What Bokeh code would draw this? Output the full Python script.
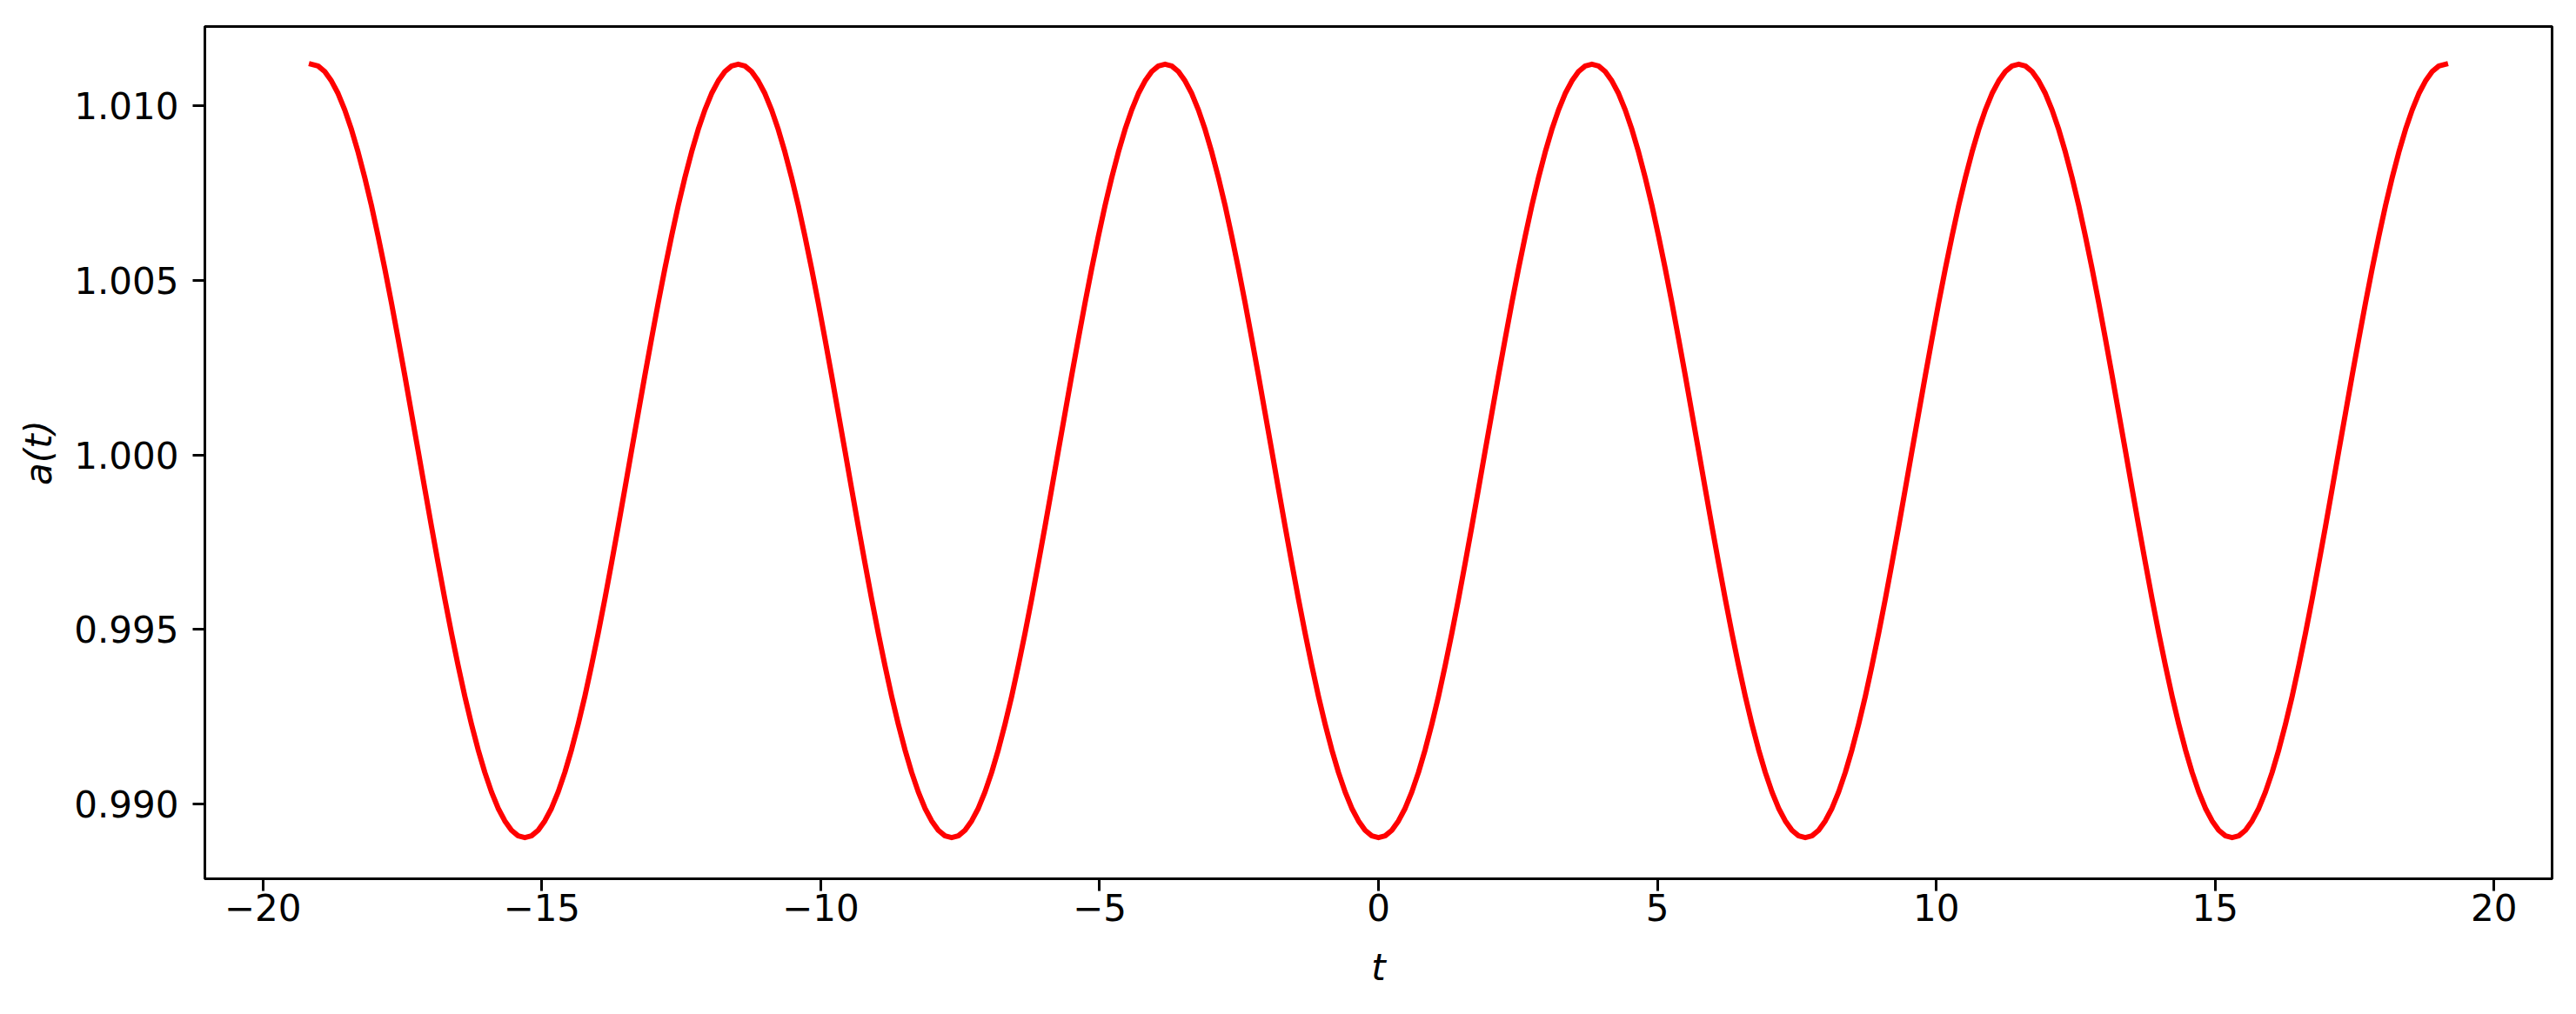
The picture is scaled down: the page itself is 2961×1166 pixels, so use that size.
import numpy as np
from bokeh.plotting import figure
from bokeh.models import FixedTicker, Range1d
from bokeh.embed import file_html
from bokeh.resources import INLINE

# Data (t from -19.13 to 19.13, 321 samples)
t_start, t_end = -19.13, 19.13
a_values = [
    # max at t=-19.13 -> min at t=-15.30
    1.01120, 1.01115, 1.01099, 1.01072, 1.01036, 1.00989, 1.00933, 1.00868, 1.00795, 1.00715, 1.00627,
    1.00534, 1.00436, 1.00333, 1.00228, 1.00120, 1.00012, 0.99903, 0.99795, 0.99690, 0.99587, 0.99489,
    0.99396, 0.99308, 0.99228, 0.99155, 0.99090, 0.99034, 0.98987, 0.98951, 0.98924, 0.98908, 0.98903,
    # up to max at t=-11.48
    0.98908, 0.98924, 0.98951, 0.98987, 0.99034, 0.99090, 0.99155, 0.99228, 0.99308, 0.99396, 0.99489,
    0.99587, 0.99690, 0.99795, 0.99903, 1.00012, 1.00120, 1.00228, 1.00333, 1.00436, 1.00534, 1.00627,
    1.00715, 1.00795, 1.00868, 1.00933, 1.00989, 1.01036, 1.01072, 1.01099, 1.01115, 1.01120,
    # down to min at t=-7.65
    1.01115, 1.01099, 1.01072, 1.01036, 1.00989, 1.00933, 1.00868, 1.00795, 1.00715, 1.00627,
    1.00534, 1.00436, 1.00333, 1.00228, 1.00120, 1.00012, 0.99903, 0.99795, 0.99690, 0.99587, 0.99489,
    0.99396, 0.99308, 0.99228, 0.99155, 0.99090, 0.99034, 0.98987, 0.98951, 0.98924, 0.98908, 0.98903,
    # up to max at t=-3.83
    0.98908, 0.98924, 0.98951, 0.98987, 0.99034, 0.99090, 0.99155, 0.99228, 0.99308, 0.99396, 0.99489,
    0.99587, 0.99690, 0.99795, 0.99903, 1.00012, 1.00120, 1.00228, 1.00333, 1.00436, 1.00534, 1.00627,
    1.00715, 1.00795, 1.00868, 1.00933, 1.00989, 1.01036, 1.01072, 1.01099, 1.01115, 1.01120,
    # down to min at t=0
    1.01115, 1.01099, 1.01072, 1.01036, 1.00989, 1.00933, 1.00868, 1.00795, 1.00715, 1.00627,
    1.00534, 1.00436, 1.00333, 1.00228, 1.00120, 1.00012, 0.99903, 0.99795, 0.99690, 0.99587, 0.99489,
    0.99396, 0.99308, 0.99228, 0.99155, 0.99090, 0.99034, 0.98987, 0.98951, 0.98924, 0.98908, 0.98903,
    # up to max at t=3.83
    0.98908, 0.98924, 0.98951, 0.98987, 0.99034, 0.99090, 0.99155, 0.99228, 0.99308, 0.99396, 0.99489,
    0.99587, 0.99690, 0.99795, 0.99903, 1.00012, 1.00120, 1.00228, 1.00333, 1.00436, 1.00534, 1.00627,
    1.00715, 1.00795, 1.00868, 1.00933, 1.00989, 1.01036, 1.01072, 1.01099, 1.01115, 1.01120,
    # down to min at t=7.65
    1.01115, 1.01099, 1.01072, 1.01036, 1.00989, 1.00933, 1.00868, 1.00795, 1.00715, 1.00627,
    1.00534, 1.00436, 1.00333, 1.00228, 1.00120, 1.00012, 0.99903, 0.99795, 0.99690, 0.99587, 0.99489,
    0.99396, 0.99308, 0.99228, 0.99155, 0.99090, 0.99034, 0.98987, 0.98951, 0.98924, 0.98908, 0.98903,
    # up to max at t=11.48
    0.98908, 0.98924, 0.98951, 0.98987, 0.99034, 0.99090, 0.99155, 0.99228, 0.99308, 0.99396, 0.99489,
    0.99587, 0.99690, 0.99795, 0.99903, 1.00012, 1.00120, 1.00228, 1.00333, 1.00436, 1.00534, 1.00627,
    1.00715, 1.00795, 1.00868, 1.00933, 1.00989, 1.01036, 1.01072, 1.01099, 1.01115, 1.01120,
    # down to min at t=15.30
    1.01115, 1.01099, 1.01072, 1.01036, 1.00989, 1.00933, 1.00868, 1.00795, 1.00715, 1.00627,
    1.00534, 1.00436, 1.00333, 1.00228, 1.00120, 1.00012, 0.99903, 0.99795, 0.99690, 0.99587, 0.99489,
    0.99396, 0.99308, 0.99228, 0.99155, 0.99090, 0.99034, 0.98987, 0.98951, 0.98924, 0.98908, 0.98903,
    # up to max at t=19.13
    0.98908, 0.98924, 0.98951, 0.98987, 0.99034, 0.99090, 0.99155, 0.99228, 0.99308, 0.99396, 0.99489,
    0.99587, 0.99690, 0.99795, 0.99903, 1.00012, 1.00120, 1.00228, 1.00333, 1.00436, 1.00534, 1.00627,
    1.00715, 1.00795, 1.00868, 1.00933, 1.00989, 1.01036, 1.01072, 1.01099, 1.01115, 1.01120,
]
t_values = np.linspace(t_start, t_end, len(a_values))

x_ticks = [-20, -15, -10, -5, 0, 5, 10, 15, 20]
x_tick_labels = ["\u221220", "\u221215", "\u221210", "\u22125", "0", "5", "10", "15", "20"]
y_ticks = [0.990, 0.995, 1.000, 1.005, 1.010]
y_tick_labels = ["0.990", "0.995", "1.000", "1.005", "1.010"]

FONT = "DejaVu Sans"
FS = "42px"

p = figure(width=2945, height=1150, output_backend="svg", toolbar_location=None,
           x_range=Range1d(-21.04, 21.04), y_range=Range1d(0.98785, 1.01228),
           min_border_left=235, min_border_right=12, min_border_top=30, min_border_bottom=140)
p.background_fill_color = "white"
p.border_fill_color = "white"
p.outline_line_color = "black"
p.outline_line_width = 3
p.xgrid.visible = False
p.ygrid.visible = False

p.line(t_values, a_values, line_color="#ff0000", line_width=6, line_cap="square", line_join="round")

for ax in (p.xaxis, p.yaxis):
    ax.axis_line_color = "black"
    ax.axis_line_width = 3
    ax.major_tick_line_color = "black"
    ax.major_tick_line_width = 3
    ax.major_tick_in = 0
    ax.major_tick_out = 14
    ax.minor_tick_line_color = None
    ax.major_label_text_font = FONT
    ax.major_label_text_font_size = FS
    ax.major_label_text_color = "black"
    ax.axis_label_text_font = FONT
    ax.axis_label_text_font_size = FS
    ax.axis_label_text_font_style = "italic"
    ax.axis_label_text_color = "black"

p.xaxis.ticker = FixedTicker(ticks=x_ticks)
p.xaxis.major_label_overrides = {tk: lb for tk, lb in zip(x_ticks, x_tick_labels)}
p.yaxis.ticker = FixedTicker(ticks=y_ticks)
p.yaxis.major_label_overrides = {tk: lb for tk, lb in zip(y_ticks, y_tick_labels)}

p.xaxis.axis_label = "t"
p.yaxis.axis_label = "a(t)"
p.xaxis.major_label_standoff = 3
p.yaxis.major_label_standoff = 16
p.xaxis.axis_label_standoff = 26
p.yaxis.axis_label_standoff = 13

open("out.html", "w").write(file_html(p, INLINE))
